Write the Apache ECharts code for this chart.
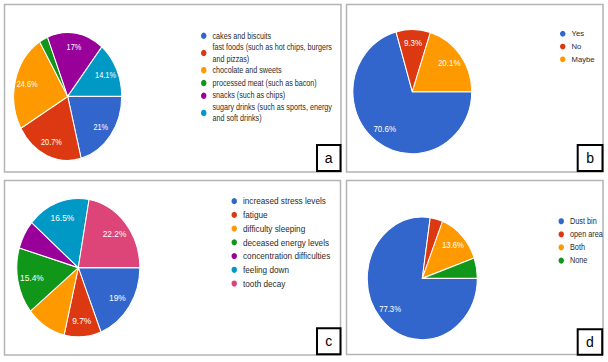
<!DOCTYPE html>
<html><head><meta charset="utf-8">
<script src="https://cdn.jsdelivr.net/npm/echarts@6/dist/echarts.min.js"></script>
<style>
html,body{margin:0;padding:0;background:#fff;width:608px;height:362px;overflow:hidden;}
#bg{position:absolute;left:0;top:0;width:608px;height:362px;}
.p{position:absolute;transform-origin:0 0;}
</style></head><body>
<div id="bg"></div>
<div id="pa" class="p"></div>
<div id="pb" class="p"></div>
<div id="pc" class="p"></div>
<div id="pd" class="p"></div>
<script>
// ---- data ----
const palette = ['#3366cc', '#dc3912', '#ff9900', '#109618', '#990099', '#0099c6', '#dd4477'];

const foodCategories = ['cakes and biscuits', 'fast foods (such as hot chips, burgers and pizzas)', 'chocolate and sweets', 'processed meat (such as bacon)', 'snacks (such as chips)', 'sugary drinks (such as sports, energy and soft drinks)'];
const foodValues = [21, 20.7, 24.6, 2.6, 17, 14.1];

const answerCategories = ['Yes', 'No', 'Maybe'];
const answerValues = [70.6, 9.3, 20.1];

const effectCategories = ['increased stress levels', 'fatigue', 'difficulty sleeping', 'deceased energy levels', 'concentration difficulties', 'feeling down', 'tooth decay'];
const effectValues = [19, 9.7, 10.5, 15.4, 6.7, 16.5, 22.2];

const disposalCategories = ['Dust bin', 'open area', 'Both', 'None'];
const disposalValues = [77.3, 3.7, 13.6, 5.4];

const panelLetters = ['a', 'b', 'c', 'd'];

// ---- background: panel frames and letter boxes ----
const FONT = 'Liberation Sans, Arial, sans-serif';
const bg = echarts.init(document.getElementById('bg'), null, {renderer: 'svg'});
const frames = [
  {x: 4.5, y: 4.5, w: 336.5, h: 167.5, bx: 317, by: 145, bw: 23.5, bh: 26},
  {x: 346.5, y: 4.5, w: 256.5, h: 167.5, bx: 577.7, by: 145, bw: 24.8, bh: 26},
  {x: 4.5, y: 180.5, w: 336, h: 174.5, bx: 317, by: 328.3, bw: 23.5, bh: 26},
  {x: 346.5, y: 180.5, w: 256.5, h: 174, bx: 577.7, by: 329.3, bw: 24.5, bh: 25.5}
];
const g = [];
frames.forEach((f, i) => {
  g.push({type: 'rect', shape: {x: f.x, y: f.y, width: f.w, height: f.h}, style: {fill: 'none', stroke: '#b4b4b4', lineWidth: 1.5}});
});
frames.forEach((f, i) => {
  g.push({type: 'rect', shape: {x: f.bx, y: f.by, width: f.bw, height: f.bh}, style: {fill: '#fff', stroke: '#000', lineWidth: 2}, z: 10});
  g.push({type: 'text', x: f.bx + f.bw / 2, y: f.by + f.bh / 2, z: 11, style: {text: panelLetters[i], fill: '#000', font: '14px ' + FONT, textAlign: 'center', textVerticalAlign: 'middle'}});
});
bg.setOption({animation: false, backgroundColor: '#fff', graphic: {elements: g}});

// ---- pies ----
const TEXT = '#2b2b2b';
function makePie(id, cfg, names, values) {
  const el = document.getElementById(id);
  el.style.left = cfg.left + 'px';
  el.style.top = cfg.top + 'px';
  el.style.width = cfg.width + 'px';
  el.style.height = (cfg.height / cfg.k) + 'px';
  el.style.transform = 'scaleY(' + cfg.k + ')';
  const chart = echarts.init(el, null, {renderer: 'svg'});
  const hidden = new Set(cfg.hidden || []);
  const data = names.map((n, i) => ({name: n, value: values[i]}));
  const overlay = names.map((n, i) => ({name: n, value: values[i], itemStyle: {color: 'rgba(0,0,0,0)'}}));
  const ts = {fontFamily: FONT, fontSize: cfg.legendFont, color: TEXT, lineHeight: cfg.lineH,
    verticalAlign: 'top', padding: [-cfg.lineH / 2, 0, 0, 0]};
  if (cfg.textWidth) { ts.width = cfg.textWidth; ts.overflow = 'break'; }
  chart.setOption({
    animation: false,
    color: palette,
    legend: {
      orient: 'vertical', left: cfg.legendLeft, top: cfg.firstY - cfg.lineH / 2, padding: 0,
      icon: 'circle', itemWidth: 7.5, itemHeight: 7.5, itemGap: cfg.gap, selectedMode: false,
      data: names.map(n => ({name: n, textStyle: {color: TEXT}})), textStyle: ts
    },
    series: [
      {type: 'pie', radius: cfg.r, center: [cfg.cx, cfg.cy], startAngle: 0, clockwise: true,
       silent: true, avoidLabelOverlap: false, data: data,
       label: {show: false}, labelLine: {show: false},
       itemStyle: {borderColor: '#fff', borderWidth: 1}},
      {type: 'pie', radius: [cfg.r * 0.44, cfg.r], center: [cfg.cx, cfg.cy], startAngle: 0, clockwise: true,
       silent: true, avoidLabelOverlap: false, legendHoverLink: false, data: overlay,
       labelLine: {show: false},
       label: {show: true, position: 'inside', color: '#fff', fontFamily: FONT, fontSize: cfg.labelFont,
         formatter: p => hidden.has(p.name) ? '' : p.value + '%'}}
    ]
  });
}

makePie('pa', {left: 0, top: 0, width: 345, height: 176, k: 1.185, cx: 67.7, cy: 81.4, r: 54,
  legendLeft: 199, firstY: 30.4, lineH: 9.9, gap: 1.3, legendFont: 7.2, labelFont: 7.4, textWidth: 126,
  hidden: ['processed meat (such as bacon)']}, foodCategories, foodValues);
makePie('pb', {left: 345, top: 0, width: 263, height: 176, k: 1.044, cx: 67.3, cy: 87.8, r: 59.4,
  legendLeft: 213, firstY: 32.6, lineH: 10, gap: 2.74, legendFont: 7.7, labelFont: 8}, answerCategories, answerValues);
makePie('pc', {left: 0, top: 178, width: 345, height: 180, k: 1.125, cx: 78.3, cy: 79.7, r: 61.5,
  legendLeft: 229.5, firstY: 21.1, lineH: 10.5, gap: 2.7, legendFont: 8.2, labelFont: 8.4,
  hidden: ['difficulty sleeping', 'concentration difficulties']}, effectCategories, effectValues);
makePie('pd', {left: 345, top: 178, width: 263, height: 180, k: 1.115, cx: 77.3, cy: 90.0, r: 55,
  legendLeft: 211.5, firstY: 38.8, lineH: 9.5, gap: 2.25, legendFont: 7.3, labelFont: 7.7,
  hidden: ['open area', 'None']}, disposalCategories, disposalValues);
</script>
</body></html>
